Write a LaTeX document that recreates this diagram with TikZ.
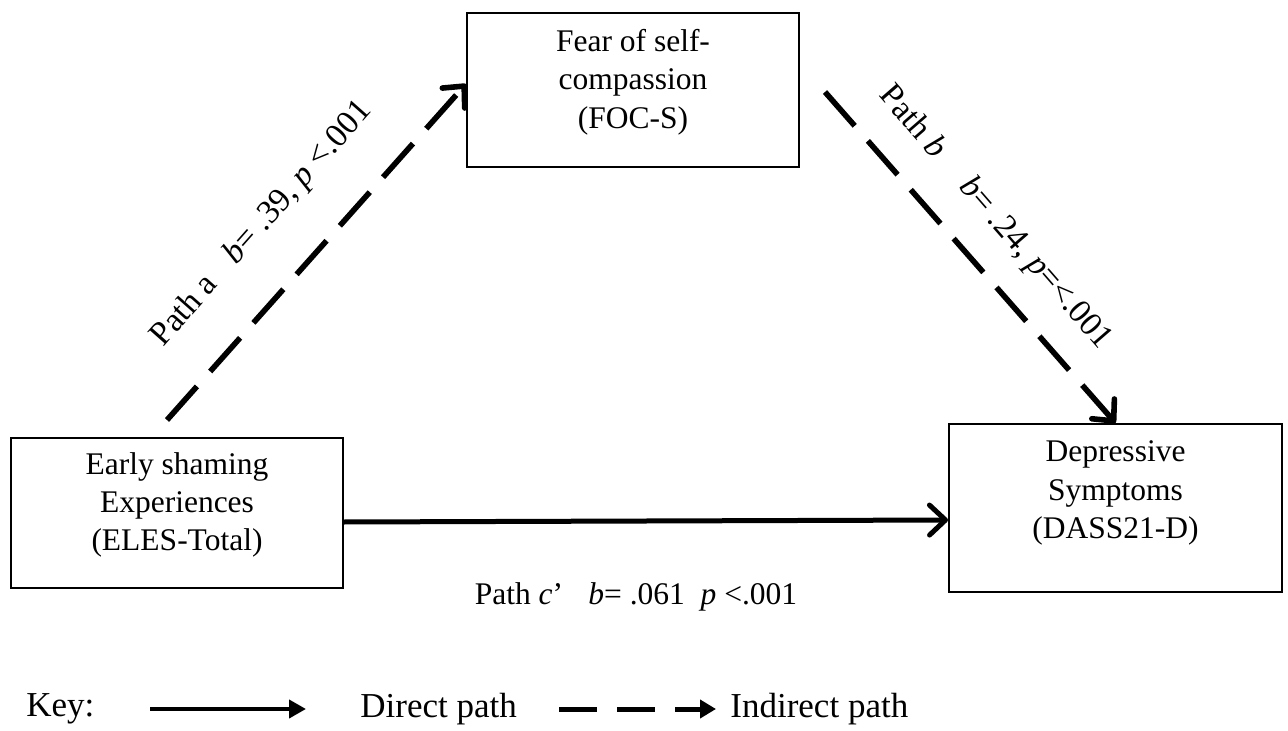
\documentclass[tikz,border=0pt]{standalone}
\usepackage{fontspec}
\setmainfont{Liberation Serif}
\usetikzlibrary{arrows.meta}
\begin{document}
\begin{tikzpicture}[x=0.5pt,y=-0.5pt,
  font=\fontsize{15.75}{19.2}\selectfont,
  box/.style={draw, line width=1pt, inner sep=0pt},
  boxtext/.style={align=center, inner sep=0pt},
  lbl/.style={inner sep=0pt},
  rlbl/.style={inner sep=0pt, font=\fontsize{16.75}{20}\selectfont},
  klbl/.style={inner sep=0pt, anchor=west, font=\fontsize{17.5}{20}\selectfont},
  chev/.style={-{Straight Barb[length=8pt,width=15pt,round]}},
  direct/.style={line width=2.5pt, chev},
  indirect/.style={line width=2.8pt, dash pattern=on 22.5pt off 10pt, chev},
  keydirect/.style={line width=2pt, -{Triangle[length=8.5pt,width=9pt]}},
  keyindirect/.style={line width=2.5pt, dash pattern=on 19pt off 10pt, -{Triangle[length=8pt,width=9pt]}}
]
\useasboundingbox (0,0) rectangle (1288,731);

% boxes
\node[box, minimum width=166pt, minimum height=77pt] (foc) at (633,90) {};
\node[boxtext] (focT) at (633,82) {Fear of self-\\compassion\\(FOC-S)};

\node[box, minimum width=166pt, minimum height=75pt] (eles) at (177,513) {};
\node[boxtext] (elesT) at (177,505) {Early shaming\\Experiences\\(ELES-Total)};

\node[box, minimum width=166.5pt, minimum height=84pt] (dass) at (1115.5,508) {};
\node[boxtext] (dassT) at (1115.5,493) {Depressive\\Symptoms\\(DASS21-D)};

% connectors
\coordinate (aS) at (167,420);
\coordinate (aE) at (466,84);
\draw[indirect] (aS) -- (aE);

\coordinate (bS) at (825,92);
\draw[indirect] (bS) -- (dass.north);

\draw[direct] ([yshift=-4.5pt]eles.east) -- ([yshift=-6pt]dass.west);

% labels
\node[rlbl, rotate=48.5] (la) at (262,224) {Path a\hspace{0.8em}\textit{b}= .39, \textit{p} <.001};
\node[rlbl, rotate=-49] (lb) at (995,218) {Path \textit{b}\hspace{1.1em}\textit{b}= .24, \textit{p}=<.001};
\node[lbl] (lc) at (636,597) {Path \textit{c}’\hspace{0.8em}\textit{b}= .061\hspace{0.5em}\textit{p} <.001};

% key
\node[klbl] (key) at (26,709) {Key:};
\coordinate (k1s) at (150,709);
\coordinate (k1e) at (306,709);
\draw[keydirect] (k1s) -- (k1e);
\node[klbl] (kd) at (360,709) {Direct path};
\coordinate (k2s) at (559,709);
\coordinate (k2e) at (716,709);
\draw[keyindirect] (k2s) -- (k2e);
\node[klbl] (ki) at (730,709) {Indirect path};
\end{tikzpicture}
\end{document}
